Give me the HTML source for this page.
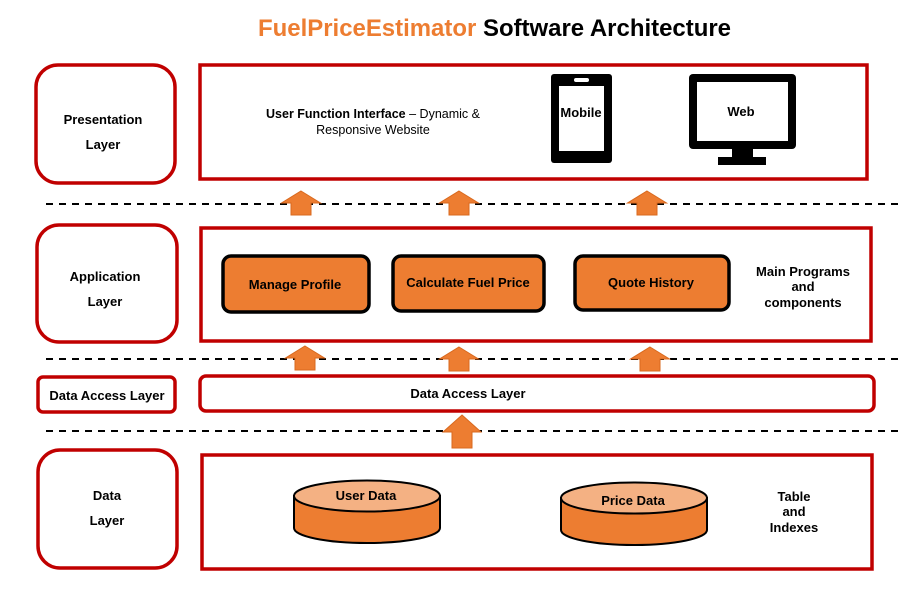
<!DOCTYPE html>
<html><head><meta charset="utf-8"><style>
html,body{margin:0;padding:0;background:#fff;}
svg{display:block;}
text{font-family:"Liberation Sans",Arial,sans-serif;}
</style></head><body>
<svg width="903" height="606" viewBox="0 0 903 606" xmlns="http://www.w3.org/2000/svg">
<defs>
<g id="arr"><path d="M0,0 L19.5,12 L10,12 L10,24 L-10,24 L-10,12 L-19.5,12 Z" fill="#ED7D31" stroke="#D9691E" stroke-width="1"/></g>
</defs>
<text x="258" y="36" font-size="24" font-weight="bold" textLength="473" lengthAdjust="spacingAndGlyphs"><tspan fill="#ED7D31">FuelPriceEstimator</tspan><tspan fill="#000"> Software Architecture</tspan></text>

<g fill="none" stroke="#C00000" stroke-width="3.5">
<rect x="36" y="65" width="139" height="118" rx="22"/>
<rect x="200" y="65" width="667" height="114"/>
<rect x="37" y="225" width="140" height="117" rx="22"/>
<rect x="201" y="228" width="670" height="113"/>
<rect x="38" y="377" width="137" height="35" rx="5"/>
<rect x="200" y="376" width="674" height="35" rx="6"/>
<rect x="38" y="450" width="139" height="118" rx="22"/>
<rect x="202" y="455" width="670" height="114"/>
</g>

<g stroke="#000" stroke-width="2" stroke-dasharray="7,6">
<line x1="46" y1="204" x2="903" y2="204"/>
<line x1="46" y1="359" x2="903" y2="359"/>
<line x1="46" y1="431" x2="903" y2="431"/>
</g>

<use href="#arr" x="301" y="191"/>
<use href="#arr" x="459" y="191"/>
<use href="#arr" x="647" y="191"/>
<use href="#arr" x="305" y="346"/>
<use href="#arr" x="459" y="347"/>
<use href="#arr" x="650" y="347"/>
<path d="M462,415 L481,432 L472,432 L472,448 L452,448 L452,432 L443,432 Z" fill="#ED7D31" stroke="#D9691E" stroke-width="1"/>

<g font-size="13" font-weight="bold" fill="#000" text-anchor="middle">
<text x="103" y="124">Presentation</text>
<text x="103" y="149">Layer</text>
<text x="105" y="281">Application</text>
<text x="105" y="306">Layer</text>
<text x="107" y="400">Data Access Layer</text>
<text x="468" y="398">Data Access Layer</text>
<text x="107" y="500">Data</text>
<text x="107" y="525">Layer</text>
<text x="803" y="276">Main Programs</text>
<text x="803" y="291">and</text>
<text x="803" y="307">components</text>
<text x="794" y="501">Table</text>
<text x="794" y="516">and</text>
<text x="794" y="532">Indexes</text>
</g>
<text x="373" y="118" font-size="12.5" text-anchor="middle"><tspan font-weight="bold">User Function Interface</tspan> – Dynamic &amp;</text>
<text x="373" y="134" font-size="12.5" text-anchor="middle">Responsive Website</text>

<rect x="551" y="74" width="61" height="89" rx="3" fill="#000"/>
<rect x="559" y="86" width="45" height="65" fill="#fff"/>
<rect x="574" y="78" width="15" height="4" rx="2" fill="#fff"/>
<text x="581" y="117" font-size="13" font-weight="bold" text-anchor="middle">Mobile</text>
<rect x="689" y="74" width="107" height="75" rx="4" fill="#000"/>
<rect x="697" y="82" width="91" height="59" fill="#fff"/>
<rect x="732" y="148" width="21" height="9" fill="#000"/>
<rect x="718" y="157" width="48" height="8" fill="#000"/>
<text x="741" y="116" font-size="13" font-weight="bold" text-anchor="middle">Web</text>

<g fill="#ED7D31" stroke="#000" stroke-width="3.5">
<rect x="223" y="256" width="146" height="56" rx="8"/>
<rect x="393" y="256" width="151" height="55" rx="8"/>
<rect x="575" y="256" width="154" height="54" rx="8"/>
</g>
<g font-size="13" font-weight="bold" text-anchor="middle">
<text x="295" y="289">Manage Profile</text>
<text x="468" y="287">Calculate Fuel Price</text>
<text x="651" y="287">Quote History</text>
</g>

<g stroke="#000" stroke-width="2">
<path d="M294,496 L294,528 A73,15 0 0 0 440,528 L440,496 Z" fill="#ED7D31"/>
<ellipse cx="367" cy="496" rx="73" ry="15.5" fill="#F4B183"/>
<path d="M561,498 L561,530 A73,15 0 0 0 707,530 L707,498 Z" fill="#ED7D31"/>
<ellipse cx="634" cy="498" rx="73" ry="15.5" fill="#F4B183"/>
</g>
<g font-size="13" font-weight="bold" text-anchor="middle">
<text x="366" y="500">User Data</text>
<text x="633" y="505">Price Data</text>
</g>
</svg>
</body></html>
